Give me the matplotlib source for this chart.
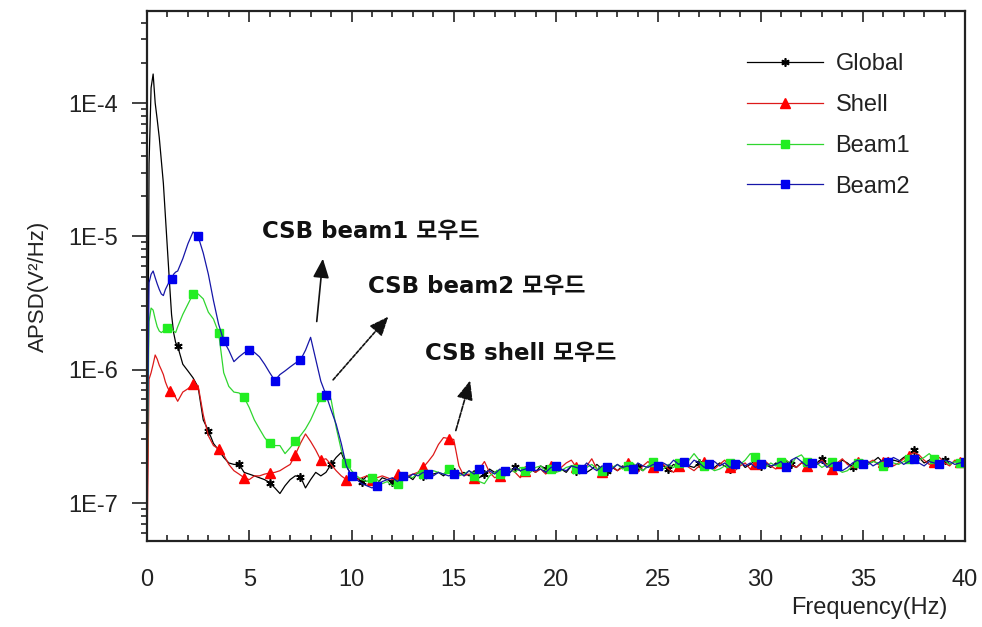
import numpy as np
import matplotlib
matplotlib.use("Agg")
import matplotlib.pyplot as plt
from matplotlib.ticker import FixedLocator, NullFormatter, LogLocator, MultipleLocator

plt.rcParams['font.family'] = ['Liberation Sans', 'DejaVu Sans']

# ---------------- data ----------------
# frequency grid (Hz): fine near 0, 0.25 Hz afterwards
freq_low = [0.0, 0.1, 0.2, 0.3, 0.4, 0.5, 0.6, 0.7, 0.8, 0.9, 1.0, 1.1, 1.2, 1.3, 1.4, 1.5]
freq_mid = list(np.arange(1.75, 10.001, 0.25))
freq_high = list(np.arange(10.25, 40.001, 0.25))
freq = np.array(freq_low + freq_mid + freq_high)

UNIT = 1e-7  # values below are in units of 1e-7 V^2/Hz

global_low = [0.4, 350, 1300, 1650, 1000, 750, 550, 370, 250, 140, 80, 45, 26, 19, 16, 15]
global_mid = [11, 9.8, 8.7, 7.4, 4.2, 3.5, 2.8, 2.5, 2.2, 2.0, 1.95, 1.95, 1.7, 1.65, 1.6, 1.55, 1.5,
              1.42, 1.3, 1.18, 1.35, 1.5, 1.6, 1.58, 1.3, 1.5, 1.7, 1.6, 1.7, 1.95, 2.2, 2.4, 1.9, 1.6]
global_high = [1.55, 1.45, 1.6, 1.5, 1.4, 1.55, 1.5, 1.45, 1.6, 1.55,
               1.6, 1.5, 1.7, 1.6, 1.75, 1.65, 1.7, 1.6, 1.75, 1.7,
               1.65, 1.7, 1.6, 1.75, 1.55, 1.65, 1.8, 1.7, 1.75, 1.6,
               1.7, 1.85, 1.75, 1.65, 1.8, 1.7, 1.9, 1.8, 1.75, 1.85,
               1.8, 1.7, 1.9, 1.75, 1.85, 1.7, 1.8, 1.95, 1.8, 1.75,
               1.85, 1.75, 1.9, 1.8, 1.95, 1.85, 1.75, 1.9, 1.85, 2.0,
               1.9, 1.8, 1.95, 1.85, 2.0, 1.9, 1.85, 2.0, 1.8, 1.95,
               1.85, 2.0, 1.9, 1.8, 1.95, 2.05, 1.85, 1.95, 2.1, 1.9,
               1.95, 1.85, 2.0, 1.9, 2.05, 1.95, 1.85, 2.0, 2.1, 1.95,
               2.0, 2.15, 1.95, 2.05, 1.9, 2.1, 2.0, 1.85, 2.0, 2.1,
               1.95, 2.05, 2.2, 2.0, 1.9, 2.1, 2.05, 2.2, 2.3, 2.5,
               2.2, 2.0, 2.1, 2.25, 2.0, 2.1, 1.95, 2.05, 2.0, 1.95]

shell_low = [0.4, 8.5, 9.5, 11, 12.9, 12, 10.8, 10, 9.2, 8.1, 7.4, 6.9, 6.8, 6.7, 6.2, 5.8]
shell_mid = [6.8, 7.2, 7.8, 7.6, 4.6, 3.2, 2.7, 2.55, 2.3, 1.95, 1.75, 1.65, 1.55, 1.5, 1.6, 1.6, 1.65,
             1.68, 1.7, 1.75, 1.85, 1.95, 2.3, 2.8, 3.3, 2.9, 2.5, 2.1, 2.15, 1.95, 1.75, 1.6, 1.5, 1.5]
shell_high = [1.5, 1.55, 1.6, 1.5, 1.55, 1.6, 1.55, 1.5, 1.65, 1.6,
              1.6, 1.65, 1.7, 1.85, 2.05, 2.3, 2.75, 3.1, 3.05, 3.0,
              1.9, 1.6, 1.65, 1.55, 1.8, 2.05, 1.7, 1.55, 1.6, 1.7,
              1.8, 1.7, 1.55, 1.75, 1.85, 1.7, 1.8, 1.65, 1.9, 1.75,
              1.85, 2.0, 2.1, 1.85, 1.75, 1.9, 2.15, 1.8, 1.7, 1.85,
              1.9, 1.75, 1.85, 2.0, 1.8, 1.7, 1.9, 2.05, 1.85, 1.8,
              1.95, 1.8, 1.7, 1.9, 2.0, 1.85, 1.75, 1.9, 2.05, 1.9,
              1.8, 1.95, 2.1, 1.85, 1.75, 1.9, 2.0, 1.8, 1.95, 1.85,
              2.05, 1.9, 1.8, 2.0, 2.1, 1.95, 1.85, 2.0, 1.9, 2.05,
              1.95, 2.1, 1.9, 1.8, 2.0, 2.15, 1.95, 1.85, 2.05, 1.9,
              2.0, 2.1, 1.95, 2.05, 2.2, 1.9, 2.0, 2.15, 2.25, 2.4,
              2.3, 2.1, 1.95, 2.05, 2.2, 2.0, 1.9, 2.1, 2.05, 2.0]

beam1_low = [1.2, 23, 29, 28, 24, 21, 19.5, 19, 19.5, 20, 20.5, 21, 20.5, 19.5, 19, 21]
beam1_mid = [26, 31, 37, 37, 34, 27, 24, 19, 9.5, 7.5, 6.8, 6.7, 6.2, 5.2, 4.2, 3.6, 3.1,
             2.8, 2.7, 2.7, 2.35, 2.6, 2.9, 3.2, 3.6, 4.2, 5.1, 6.2, 6.9, 6.0, 3.7, 2.5, 2.0, 1.75]
beam1_high = [1.6, 1.5, 1.45, 1.55, 1.5, 1.4, 1.45, 1.35, 1.4, 1.55,
              1.6, 1.55, 1.7, 1.65, 1.6, 1.75, 1.7, 1.65, 1.8, 1.7,
              1.6, 1.65, 1.75, 1.6, 1.45, 1.4, 1.6, 1.7, 1.65, 1.75,
              1.8, 1.7, 1.85, 1.75, 1.7, 1.85, 1.9, 1.75, 1.8, 1.7,
              1.75, 1.85, 1.9, 1.8, 1.7, 1.85, 1.95, 1.8, 1.75, 1.9,
              1.85, 1.95, 1.8, 1.9, 2.0, 1.85, 1.75, 1.9, 2.05, 1.9,
              1.8, 1.95, 1.85, 2.0, 1.9, 2.1, 2.35, 2.1, 1.9, 1.85,
              1.75, 1.8, 1.9, 2.0, 1.85, 1.95, 2.1, 2.35, 2.2, 1.95,
              1.85, 2.0, 1.9, 2.05, 2.1, 1.95, 2.2, 2.3, 2.05, 1.9,
              2.0, 1.85, 1.95, 2.05, 1.8, 1.7, 1.75, 1.9, 2.0, 2.1,
              1.95, 2.05, 2.0, 1.9, 2.1, 2.0, 1.95, 2.05, 2.15, 2.0,
              2.1, 2.2, 2.35, 2.15, 2.0, 2.1, 1.95, 2.05, 2.0, 2.1]

beam2_low = [1.4, 45, 52, 55, 49, 44, 40, 37, 36, 40, 43, 46, 48, 52, 54, 55]
beam2_mid = [68, 88, 108, 100, 75, 52, 33, 22, 16.5, 14, 11.5, 12.5, 13.4, 14, 13.5, 12.5, 11,
             9.5, 8.3, 9.2, 9.8, 10.5, 11.2, 11.8, 14, 17.5, 12, 8.2, 6.5, 5.0, 3.9, 2.8, 1.9, 1.6]
beam2_high = [1.5, 1.4, 1.35, 1.3, 1.35, 1.45, 1.5, 1.55, 1.45, 1.6,
              1.55, 1.65, 1.6, 1.7, 1.65, 1.6, 1.7, 1.65, 1.6, 1.65,
              1.7, 1.6, 1.75, 1.65, 1.8, 1.7, 1.75, 1.65, 1.8, 1.75,
              1.7, 1.85, 1.75, 1.8, 1.9, 1.75, 1.8, 1.7, 1.85, 1.9,
              1.8, 1.75, 1.9, 1.85, 1.8, 2.0, 1.85, 1.75, 1.9, 1.85,
              1.8, 1.95, 1.85, 1.9, 1.8, 2.0, 1.9, 1.85, 1.95, 1.9,
              2.0, 1.9, 2.1, 1.95, 2.05, 1.9, 2.1, 2.0, 1.85, 1.95,
              2.05, 1.9, 2.0, 1.85, 1.95, 2.05, 1.9, 2.0, 1.85, 1.95,
              2.0, 1.9, 1.95, 2.05, 1.85, 2.1, 2.2, 2.05, 1.9, 2.0,
              1.95, 2.05, 1.85, 2.0, 1.9, 1.75, 1.85, 2.0, 2.1, 1.95,
              2.05, 1.9, 2.0, 2.1, 2.05, 2.2, 2.1, 1.95, 2.05, 2.15,
              2.0, 1.9, 2.05, 2.0, 1.95, 2.1, 2.05, 1.95, 2.0, 2.05]

series_names = ["Global", "Shell", "Beam1", "Beam2"]
x_tick_values = [0, 5, 10, 15, 20, 25, 30, 35, 40]
y_tick_values = [1e-7, 1e-6, 1e-5, 1e-4]
y_tick_labels = ["1E-7", "1E-6", "1E-5", "1E-4"]

annotations = [
    # text, text position (Hz, APSD), arrow tail (Hz, APSD), arrow head (Hz, APSD), linestyle
    ("CSB beam1 모우드", (5.6, 1.08e-5), (8.3, 2.3e-6), (8.6, 6.8e-6), '-'),
    ("CSB beam2 모우드", (10.8, 4.2e-6), (9.1, 8.4e-7), (11.8, 2.5e-6), (0, (2, 1))),
    ("CSB shell 모우드", (13.6, 1.33e-6), (15.1, 3.5e-7), (15.8, 8.3e-7), (0, (3, 1))),
]

# ---------------- plot ----------------
fig = plt.figure(figsize=(9.82, 6.27), dpi=100)
ax = fig.add_axes([0.1497, 0.1372, 0.8330, 0.8453])

def series(low, mid, high):
    return np.array(low + mid + high) * UNIT

def mark_idx(start, step):
    targets = np.arange(start, 40.01, step)
    return sorted(set(int(np.argmin(np.abs(freq - t))) for t in targets))

styles = [
    dict(color='#000000', marker=(6, 2, 0), ms=6, mfc='#000000', mec='#000000', mew=1.2,
         markevery=mark_idx(1.5, 1.5)),
    dict(color='#dd1a1a', marker='^', ms=7.5, mfc='#ff0000', mec='#ff0000',
         markevery=mark_idx(1.1, 1.25)),
    dict(color='#2fd62f', marker='s', ms=6, mfc='#22ee22', mec='#22ee22',
         markevery=mark_idx(1.0, 1.25)),
    dict(color='#1616a8', marker='s', ms=6, mfc='#0000ee', mec='#0000ee',
         markevery=mark_idx(1.2, 1.25)),
]
data = [series(global_low, global_mid, global_high),
        series(shell_low, shell_mid, shell_high),
        series(beam1_low, beam1_mid, beam1_high),
        series(beam2_low, beam2_mid, beam2_high)]

for name, y, st in zip(series_names, data, styles):
    ax.plot(freq, y, lw=0.9, label=name, **st)

ax.set_yscale('log')
ax.set_xlim(0, 40)
ax.set_ylim(5.2e-8, 4.9e-4)

ax.xaxis.set_major_locator(FixedLocator(x_tick_values))
ax.set_xticklabels([str(v) for v in x_tick_values])
ax.xaxis.set_minor_locator(MultipleLocator(1))
ax.yaxis.set_major_locator(FixedLocator(y_tick_values))
ax.set_yticklabels(y_tick_labels)
ax.yaxis.set_minor_locator(LogLocator(base=10, subs=np.arange(2, 10)))
ax.yaxis.set_minor_formatter(NullFormatter())

ax.tick_params(axis='x', which='both', direction='in', top=True, bottom=True,
               labelsize=17, pad=20, color='#222222', width=1.2)
ax.tick_params(axis='x', which='major', length=8)
ax.tick_params(axis='x', which='minor', length=4)
ax.tick_params(axis='y', which='both', direction='out', left=True, right=False,
               labelsize=17, pad=10, color='#222222', width=1.2)
ax.tick_params(axis='y', which='major', length=11)
ax.tick_params(axis='y', which='minor', length=4.5)
for tl in ax.get_xticklabels() + ax.get_yticklabels():
    tl.set_color('#222222')

for sp in ax.spines.values():
    sp.set_linewidth(1.6)
    sp.set_color('#222222')

ax.set_xlabel("Frequency(Hz)", fontsize=17, color='#222222', ha='right', va='center')
ax.xaxis.set_label_coords(0.979, -0.126)
ax.set_ylabel("APSD(V²/Hz)", fontsize=16, color='#222222', va='center')
ax.yaxis.set_label_coords(-0.133, 0.481)

for text, tpos, tail, head, ls in annotations:
    ax.text(tpos[0], tpos[1], text, fontsize=16.5, fontweight='bold', va='center', ha='left',
            family=['DejaVu Sans', 'Noto Sans CJK KR'], color='#111111')
    ax.annotate("", xy=head, xytext=tail,
                arrowprops=dict(arrowstyle='-|>,head_length=0.9,head_width=0.38',
                                color='#111111', lw=1.2, linestyle=ls,
                                shrinkA=0, shrinkB=0, mutation_scale=13))

leg = ax.legend(loc='upper left', bbox_to_anchor=(0.7335, 0.9206), frameon=False,
                fontsize=17, handlelength=3.2, handletextpad=0.55, labelspacing=0.8,
                borderpad=0, borderaxespad=0)
for t in leg.get_texts():
    t.set_color('#222222')

fig.savefig("out.png", dpi=100)
